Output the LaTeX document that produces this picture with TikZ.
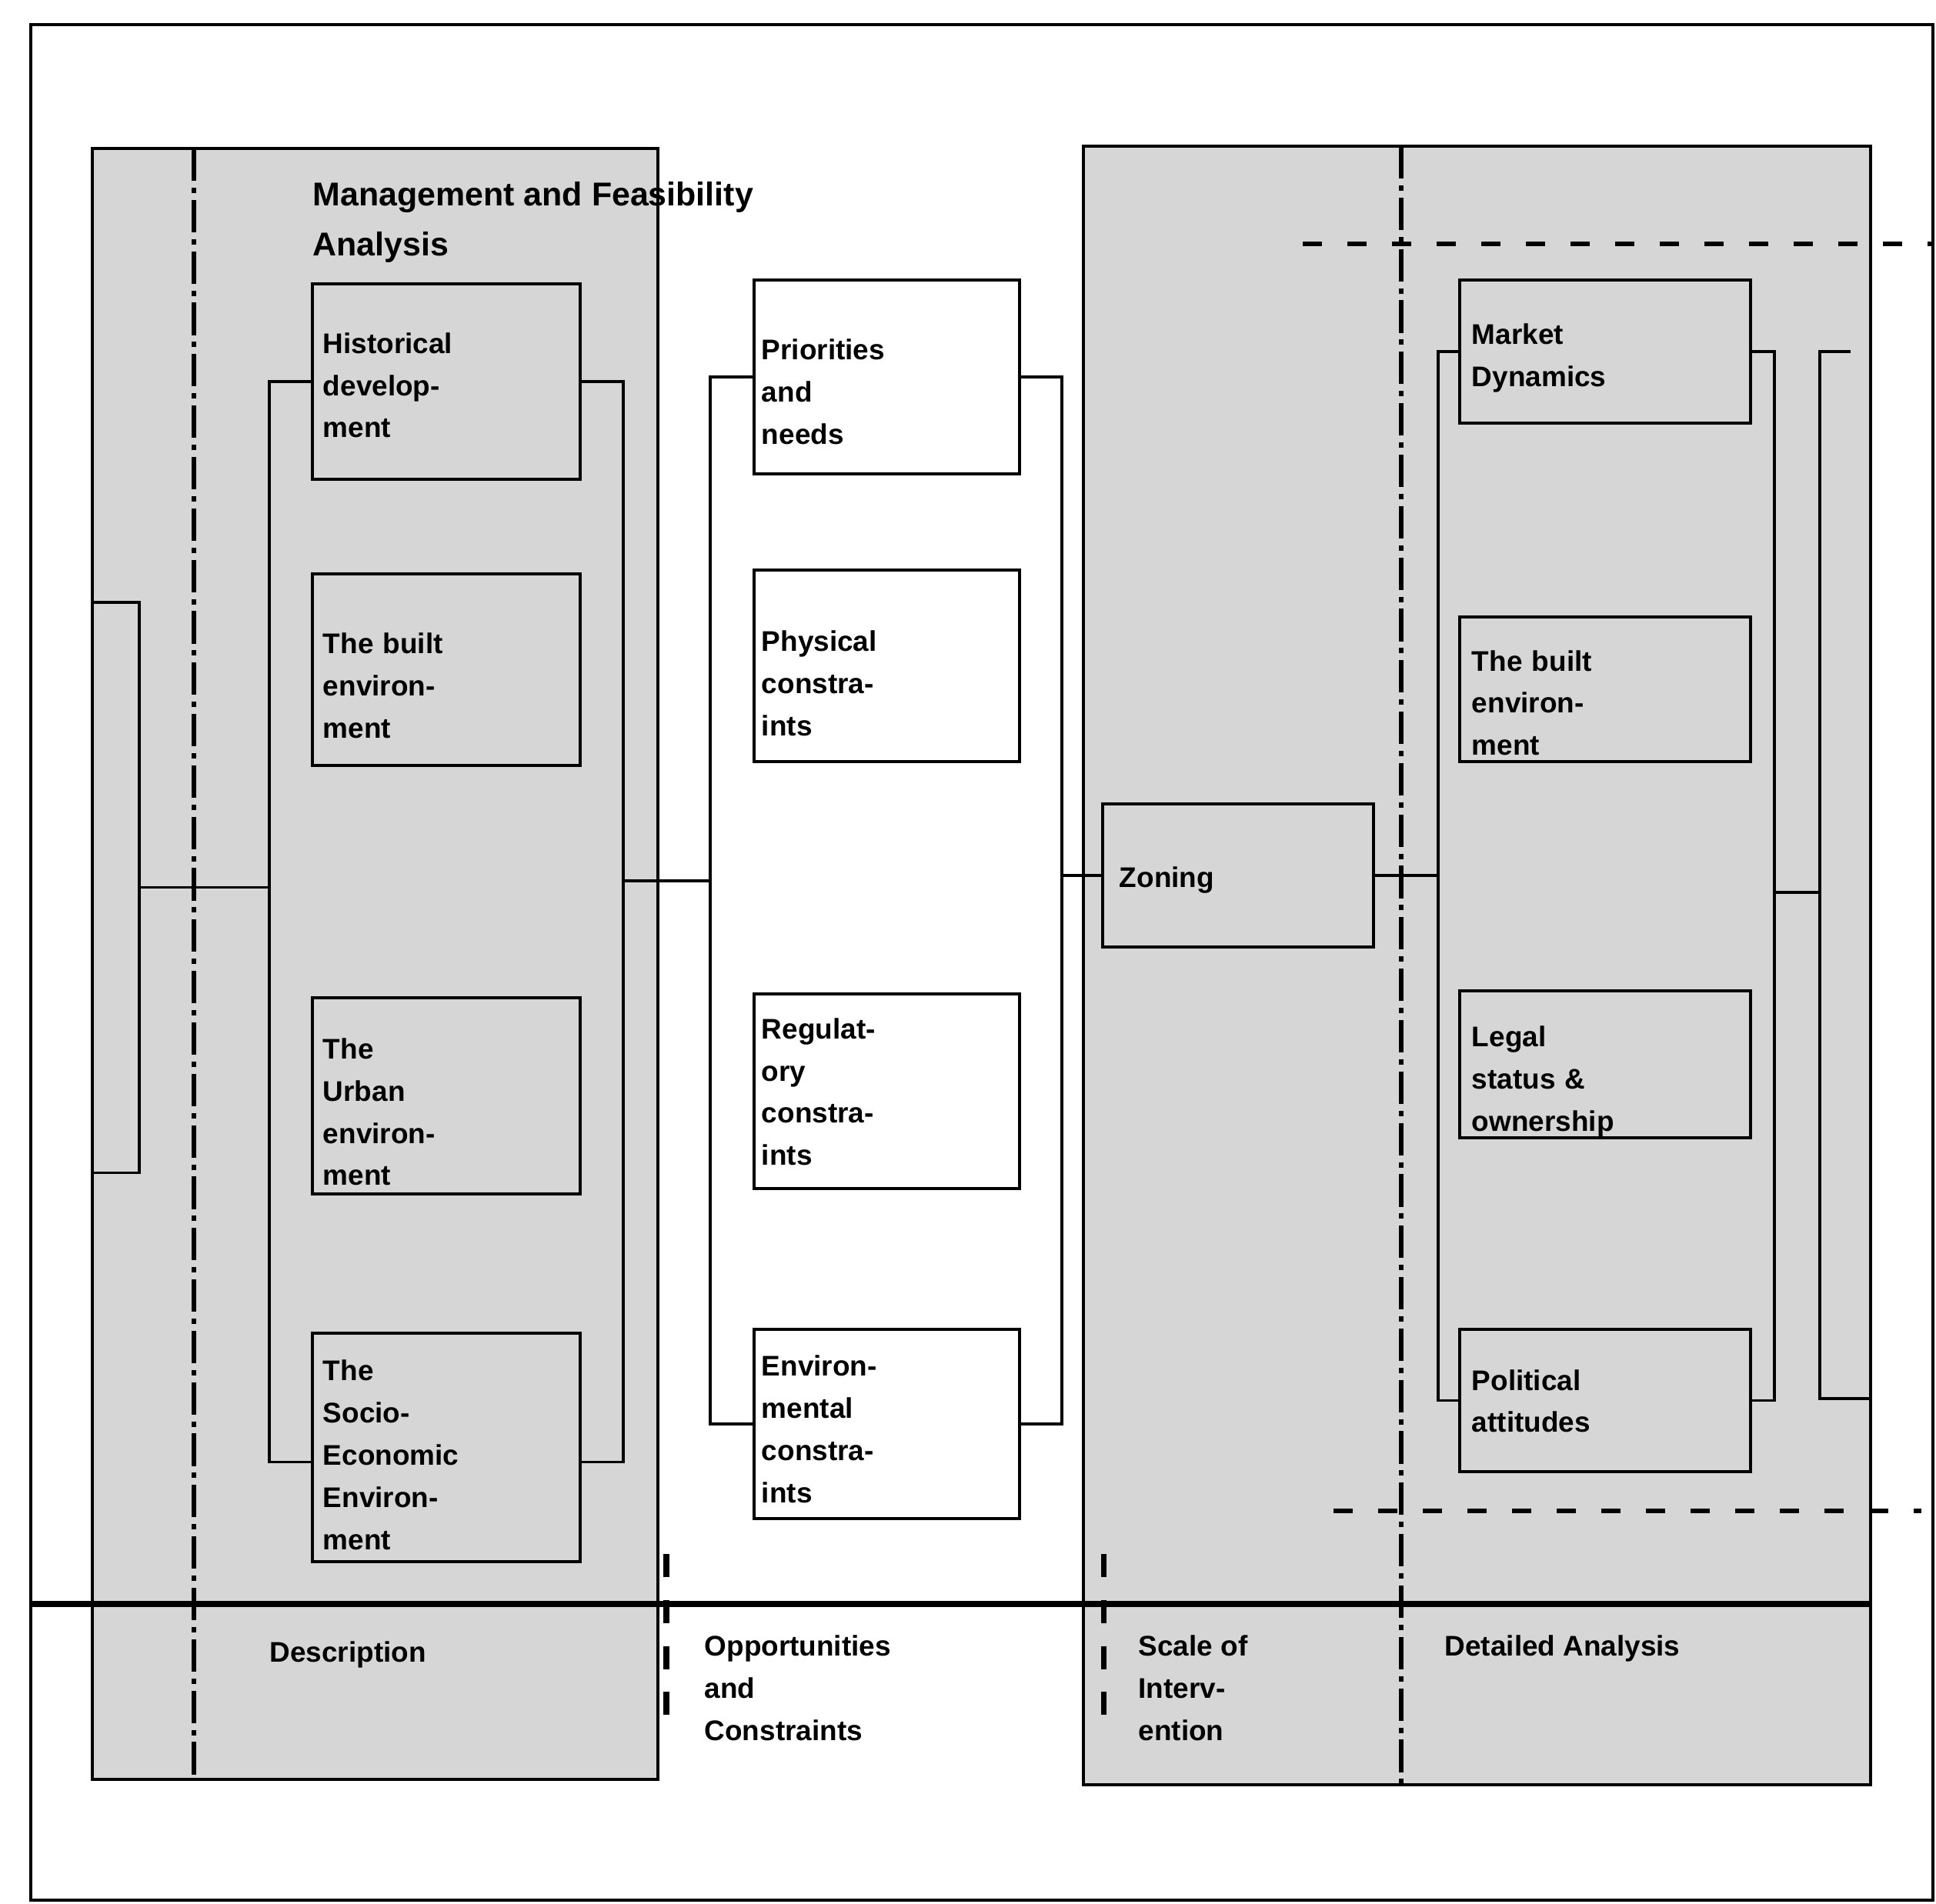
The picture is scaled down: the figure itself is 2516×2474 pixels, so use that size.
\documentclass[tikz,border=0pt]{standalone}
\usepackage{fontspec}
\setmainfont{Liberation Sans}
\usetikzlibrary{calc}

\newcommand{\boxfont}{\fontsize{10.5}{15.6}\selectfont\bfseries}
\newcommand{\headfont}{\fontsize{12.2}{18.3}\selectfont\bfseries}

\tikzset{
  panel/.style={draw, line width=1.2pt, fill=black!16},
  sepline/.style={line width=1.7pt, dash pattern=on 12pt off 2.5pt on 2pt off 2.5pt},
  cutline/.style={line width=1.7pt, dash pattern=on 7pt off 9.5pt},
  tickline/.style={line width=2pt, dash pattern=on 8.5pt off 8.5pt},
  wire/.style={line width=1pt},
  lift/.style={execute at begin node={\rule{0pt}{#1}}},
  item/.style={draw, line width=1.1pt, rectangle, align=left, inner ysep=0pt, font=\boxfont, lift=8pt},
  leftitem/.style={item, inner xsep=0.14cm, text width=3.20cm},
  miditem/.style={item, fill=white, inner xsep=0.10cm, text width=3.25cm},
  rightitem/.style={item, inner xsep=0.16cm, text width=3.46cm},
  caption/.style={anchor=north west, inner sep=0pt, align=left, font=\boxfont},
}

\begin{document}
\begin{tikzpicture}[x=0.01cm,y=0.01cm,yscale=-1,xscale=1]
\useasboundingbox (0,0) rectangle (2516,2474);

%Shape: Rectangle (frame)
\draw [line width=0.9pt] (40,32) rectangle (2512,2470);

%Shape: Rectangle (left panel)
\draw [panel] (120,193) rectangle (855,2313);
%Shape: Rectangle (right panel)
\draw [panel] (1408,190) rectangle (2431,2320);

%Straight Lines (column separators)
\draw [sepline] (252,193) -- (252,2313);
\draw [sepline] (1821,190) -- (1821,2320);

% left column
\node [draw, line width=1pt, minimum width=0.61cm, minimum height=7.41cm] (srect) at (150.5,1153.5) {};
\node [leftitem, lift=10.4pt, minimum height=2.54cm] (hist) at (580,496) {Historical\\develop-\\ment};
\node [leftitem, lift=19.5pt, minimum height=2.49cm] (lbuilt) at (580,870.5) {The built\\environ-\\ment};
\node [leftitem, lift=19.5pt, minimum height=2.55cm] (urban) at (580,1424.5) {The\\Urban\\environ-\\ment};
\node [leftitem, lift=13.2pt, minimum height=2.97cm] (socio) at (580,1881.5) {The\\Socio-\\Economic\\Environ-\\ment};

% middle column
\node [miditem, lift=18.6pt, minimum height=2.52cm] (prio) at (1152.5,490) {Priorities\\and\\needs};
\node [miditem, lift=20.4pt, minimum height=2.49cm] (phys) at (1152.5,865.5) {Physical\\constra-\\ints};
\node [miditem, minimum height=2.53cm] (regul) at (1152.5,1418.5) {Regulat-\\ory\\constra-\\ints};
\node [miditem, lift=11.3pt, minimum height=2.46cm] (env) at (1152.5,1851) {Environ-\\mental\\constra-\\ints};

% right column
\node [item, lift=11.3pt, inner xsep=0.22cm, text width=3.08cm, minimum height=1.86cm] (zoning) at (1609,1138) {Zoning};
\node [rightitem, lift=12.3pt, minimum height=1.86cm] (market) at (2086,457) {Market\\Dynamics};
\node [rightitem, lift=17.7pt, minimum height=1.88cm] (rbuilt) at (2086,896) {The built\\environ-\\ment};
\node [rightitem, lift=20.4pt, minimum height=1.91cm] (legal) at (2086,1383.5) {Legal\\status \&\\ownership};
\node [rightitem, minimum height=1.85cm] (polit) at (2086,1820.5) {Political\\attitudes};

% bracket joints
\coordinate (lbl) at (350,1153.5);
\coordinate (lbr) at (810,1145);
\coordinate (mbl) at (923,1145);
\coordinate (mbr) at (1380,1138);
\coordinate (rbl) at (1869,1150);
\coordinate (rbr) at (2306,1160);
\coordinate (rol) at (2365,1160);
\coordinate (otop) at (2405,457);
\coordinate (obot) at (2431,1818);

%Straight Lines (brackets)
\draw [wire] (srect.east) -- (lbl);
\draw [wire] (hist.west) -| (lbl) |- ($(socio.west)+(0,19)$);
\draw [wire] (hist.east) -| (lbr) |- ($(socio.east)+(0,19)$);
\draw [wire] (lbr) -- (mbl);
\draw [wire] (prio.west) -| (mbl) |- (env.west);
\draw [wire] (prio.east) -| (mbr) |- (env.east);
\draw [wire] (mbr) -- (zoning.west);
\draw [wire] (zoning.east) -- (zoning.east -| rbl);
\draw [wire] (market.west) -| (rbl) |- (polit.west);
\draw [wire] (market.east) -| (rbr) |- (polit.east);
\draw [wire] (rbr) -- (rol);
\draw [wire] (otop) -| (rol) |- (obot);

%Straight Lines (rule above the captions)
\draw [line width=2.5pt] (40,2085) -- (2431,2085);

%Straight Lines (dashed cuts)
\draw [cutline] (1693,317) -- (2512,317);
\draw [cutline] (1733,1964) -- (2497,1964);
\draw [tickline] (866,2020) -- (866,2232);
\draw [tickline] (1434,2020) -- (1434,2232);

% Text Node
\node [caption, font=\headfont] (title) at (406,236) {Management and Feasibility\\Analysis};
% Text Node
\node [caption] (descr) at (350,2133) {Description};
% Text Node
\node [caption] (oppor) at (915,2125) {Opportunities\\and\\Constraints};
% Text Node
\node [caption] (scale) at (1479,2125) {Scale of\\Interv-\\ention};
% Text Node
\node [caption] (detail) at (1877,2125) {Detailed Analysis};

\end{tikzpicture}
\end{document}
